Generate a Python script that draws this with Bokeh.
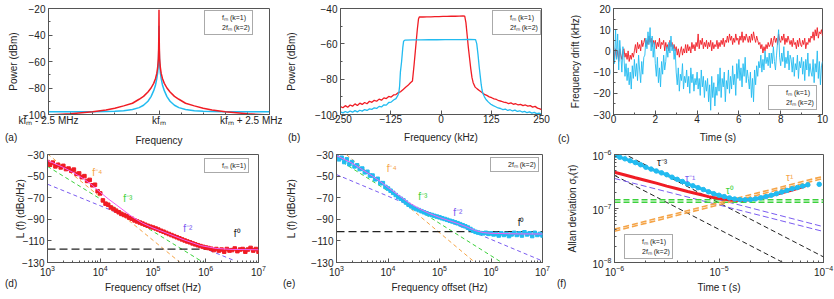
import numpy as np
from bokeh.plotting import figure
from bokeh.layouts import row, column
from bokeh.models import Range1d, FixedTicker, Legend, LegendItem, Label, Div
from bokeh.embed import file_html
from bokeh.resources import INLINE

FONT = "Liberation Sans"
RED = "#f01c24"
BLUE = "#22bbf0"
ORANGE = "#f5a447"
GREEN = "#3bd13b"
PURPLE = "#7a5cf0"
MAGENTA = "#f35ef3"
DARK = "#222222"
FRAME = "#555555"

# ---------------- (a) spectrum around k*fm ----------------
a_offset_mhz = [0, 0.004, 0.008, 0.015, 0.03, 0.05, 0.08, 0.12, 0.18, 0.25, 0.35, 0.45,
                0.6, 0.8, 1.0, 1.2, 1.5, 2.0, 2.5]
a_red_dbm = [-21, -40, -50, -58, -64.5, -69, -73, -76.5, -80, -83, -86.3, -88.5,
             -91.5, -93.5, -95.3, -96.6, -98, -99.5, -100.3]
a_blue_dbm = [-33, -48, -55, -62, -68.5, -73, -78, -82, -86.5, -90, -93, -94.8,
              -96.2, -97.2, -97.6, -97.8, -97.9, -98, -98]
a_tick_pos = [-2.5, 0, 2.5]
a_tick_labels = ["kfₘ - 2.5 MHz", "kfₘ", "kfₘ + 2.5 MHz"]

# ---------------- (b) ----------------
b_red_khz = [-250, -244, -238, -232, -226, -220, -214, -208, -202, -196, -190, -184, -178, -172,
             -166, -160, -154, -148, -142, -136, -130, -124, -118, -112, -106, -100, -94, -88, -82,
             -76, -71, -67, -63, -59, -56, -54, -45, -35, -25, -15, -5, 5, 15, 25, 35, 45, 55,
             59, 62, 65, 68, 71, 74, 77, 80, 85, 90, 96, 102, 108, 114, 120, 126, 132, 138, 144,
             150, 156, 162, 168, 174, 180, 186, 192, 198, 204, 210, 216, 222, 228, 234, 240, 246, 250]
b_red_dbm = [-95.5, -96.2, -95, -95.9, -94.6, -95.3, -94, -94.9, -93.6, -94.3, -93.2, -93.9, -92.5,
             -93.1, -92, -92.5, -91.3, -91.9, -90.6, -91, -89.8, -90.1, -88.9, -88.7, -87.6, -87,
             -85.8, -84.6, -83.5, -82, -81, -72, -62, -52, -46, -44.8, -44.8, -44.7, -44.7, -44.6,
             -44.6, -44.5, -44.5, -44.4, -44.4, -44.3, -44.2, -44.3, -48, -55, -62, -68, -74, -79,
             -82, -84.5, -85.5, -86.5, -87.5, -88.6, -89.2, -90, -90.5, -91.2, -91.5, -92.2, -92.5,
             -93, -93.2, -93.8, -93.4, -94.2, -93.9, -94.6, -94.3, -95, -94.6, -95.3, -95, -95.8,
             -95.4, -96.4, -96.8, -97.2]
b_blue_khz = [-250, -244, -238, -232, -226, -220, -214, -208, -202, -196, -190, -184, -178, -172,
              -166, -160, -154, -148, -142, -136, -130, -124, -118, -112, -108, -105, -103, -101,
              -98, -95, -93, -90, -70, -50, -30, -10, 10, 30, 50, 70, 86, 89, 92, 95, 98, 100, 102,
              104, 108, 112, 118, 124, 130, 136, 142, 148, 154, 160, 166, 172, 178, 184, 190, 196,
              202, 208, 214, 220, 226, 232, 238, 244, 250]
b_blue_dbm = [-98.5, -99.1, -98.3, -98.9, -98, -98.7, -97.8, -98.5, -97.6, -98.1, -97.2, -97.7,
              -96.8, -97.1, -96.2, -96.6, -95.4, -95.7, -94.5, -94.7, -93.2, -93, -91.8, -91,
              -89.5, -88, -84, -76, -70, -62, -58.5, -57.9, -57.8, -57.8, -57.7, -57.7, -57.6,
              -57.6, -57.6, -57.5, -57.6, -60, -66, -73, -79, -83, -86, -88, -90, -91.5, -93,
              -94.2, -95, -95.6, -96.3, -96.6, -97.2, -96.9, -97.7, -97.3, -98, -97.5, -98.3,
              -97.9, -98.6, -98.2, -99, -98.5, -99.2, -98.8, -99.5, -99.2, -99.8]

# ---------------- (c) frequency drift, 0.05 s sampling ----------------
c_red_khz = [2, -4, 1, -3, 0, -5, 1, -2, -4, 0,
             1, -3, -1, -4, 0, -5, -2, -4, -1, -3,
             0, 3, -1, 4, 1, 3, 0, 5, 2, 4,
             6, 2, 5, 3, 7, 4, 6, 2, 5, 3,
             5, 1, 4, 2, 6, 1, 4, 3, 5, 0,
             4, 1, 3, 0, 5, 2, 4, 1, 3, 0,
             2, -2, 1, -3, 0, 2, -2, 1, -1, 3,
             -1, 3, 0, 2, -1, 4, 1, 3, 0, 4,
             2, 8, 1, 5, 3, 6, 1, 4, 2, 5,
             1, 4, 2, 5, 0, 4, 1, 3, 2, 5,
             1, 4, 2, 5, 3, 6, 2, 5, 4, 7,
             4, 8, 5, 7, 3, 6, 4, 8, 5, 6,
             3, 7, 5, 9, 4, 7, 5, 8, 6, 4,
             7, 4, 8, 5, 9, 6, 4, 7, 5, 3,
             4, 1, 3, -1, 2, 0, 3, 1, 4, 2,
             3, 6, 2, 5, 7, 4, 6, 3, 8, 5,
             4, 7, 5, 8, 3, 6, 4, 7, 5, 3,
             5, 2, 6, 3, 4, 1, 5, 2, 6, 3,
             2, 5, 3, 6, 1, 4, 3, 6, 4, 7,
             6, 9, 5, 10, 7, 11, 6, 9, 8, 10,
             7]
c_blue_khz = [3, -6, 10, -4, 8, -9, 5, -2, -10, 2,
              -3, -12, -6, -14, -8, -16, -10, -18, -7, -13,
              -4, -12, -6, -14, -2, -9, -15, -5, -11, -3,
              -2, 6, 1, 9, 3, 11, 0, 7, -3, 4,
              -6, -12, -3, -15, -8, -17, -5, -11, -2, -9,
              -5, 2, -3, 4, -1, 7, 0, 3, -4, 1,
              -10, -16, -8, -19, -11, -14, -6, -18, -12, -15,
              -9, -17, -12, -20, -8, -15, -11, -19, -13, -16,
              -10, -18, -13, -21, -9, -17, -12, -22, -14, -19,
              -13, -24, -16, -28, -12, -22, -15, -26, -17, -21,
              -11, -19, -8, -22, -13, -17, -10, -24, -14, -18,
              -9, -20, -12, -18, -7, -16, -11, -21, -6, -13,
              -4, -14, -8, -17, -6, -12, -3, -15, -9, -13,
              -18, -10, -22, -13, -24, -9, -16, -7, -12, -5,
              -8, -2, -10, -4, -9, 0, -6, -3, -7, -1,
              -8, -1, -6, 2, -5, -9, -2, 4, 10, -3,
              -7, -1, -5, 2, -8, -3, -6, 0, -9, -2,
              -4, -10, -3, -12, -6, -9, -2, -13, -5, -8,
              -3, -11, -5, -14, -4, -9, -1, -12, -6, -10,
              -12, -4, -15, -6, -10, 0, -13, -5, -16, -7,
              -5]

# ---------------- (d) phase noise, fm (k=1), 20 points/decade ----------------
d_red_L = [-37, -39.5, -37.5, -41, -39.5, -42, -40.5, -43.5, -43, -45,
           -44, -48, -47.5, -51, -50, -54.5, -53.5, -58.5, -58, -64,
           -66, -72.5, -75.5, -76.5, -79, -80.5, -82, -83.5, -85, -86,
           -87, -88.5, -89.5, -91, -92, -93, -94, -95, -96, -96.8,
           -97.6, -98.5, -99.5, -100.6, -101.5, -102.6, -103.6, -104.6, -105.6, -106.6,
           -107.6, -108.6, -109.6, -110.5, -111.3, -112.3, -113.2, -114, -114.8, -115.5,
           -116.1, -116.6, -117.2, -118.5, -117.5, -119, -118, -120, -117.5, -119,
           -118.5, -117, -119.5, -118, -117.5, -120, -118, -116.5, -119, -117.5,
           -120]
d_fit_f = [1e3, 2e3, 3.16e3, 5e3, 7.08e3, 1e4, 1.41e4, 2e4, 2.82e4, 3.98e4, 6.31e4, 1e5,
           2e5, 4e5, 7.94e5, 1.58e6, 3.16e6, 1e7]
d_fit_L = [-35.5, -42, -47, -53, -58.5, -65, -71, -76.5, -82, -87.5, -93.5, -98,
           -103.6, -109.3, -114.3, -117, -117.9, -118.2]
d_f4_f, d_f4_L = [1e3, 3.27e5], [-29.4, -130]
d_f3_f, d_f3_L = [1e3, 9.06e5], [-41, -130]
d_f2_f, d_f2_L = [1e3, 3.6e6], [-57.5, -128.5]
d_f0_f, d_f0_L = [1e3, 1e7], [-117.6, -117.6]

# ---------------- (e) phase noise, 2fm (k=2) ----------------
e_blue_L = [-32, -34.5, -33, -37, -34.5, -39, -37, -41, -40, -43.5,
            -43, -46.5, -46, -49.5, -49.5, -53, -52.5, -56.5, -56.5, -60,
            -61.5, -63.5, -65.5, -67.5, -69.5, -71, -72.5, -74.5, -76.5, -78,
            -79.5, -80.5, -81.5, -82.5, -83.5, -84.5, -85.3, -86, -86.8, -87.5,
            -88.2, -89, -89.7, -90.5, -91.3, -92, -92.8, -93.6, -94.5, -95.5,
            -96.5, -97.6, -99, -100.5, -101.6, -102.3, -102.8, -103, -102.5, -103.5,
            -103, -104, -103.5, -105, -103, -104.5, -103.5, -105.5, -104, -102.5,
            -104.5, -103, -105, -102, -104, -103, -105.5, -102.5, -104.5, -103.5,
            -105]
e_fit_f = [1e3, 2e3, 3.16e3, 5e3, 7.08e3, 1e4, 1.58e4, 2.51e4, 3.98e4, 6.31e4, 1e5, 2e5,
           3.16e5, 5e5, 7.08e5, 1e6, 3.16e6, 1e7]
e_fit_L = [-31, -38, -44, -50, -55, -60.5, -67.5, -74.5, -80, -84.5, -88.3, -93,
           -96.5, -100.5, -102.3, -103, -103.5, -103.6]
e_f4_f, e_f4_L = [1.55e3, 4.9e5], [-30, -130]
e_f3_f, e_f3_L = [1e3, 1.62e6], [-33.7, -130]
e_f2_f, e_f2_L = [1e3, 1e7], [-48.6, -128.6]
e_f0_f, e_f0_L = [1e3, 1e7], [-101.4, -101.4]

# ---------------- (f) Allan deviation ----------------
f_red_tau = [1e-6, 1.26e-6, 1.58e-6, 2e-6, 2.51e-6, 3.16e-6, 3.98e-6, 5.01e-6, 6.31e-6, 7.94e-6,
             1e-5, 1.26e-5, 1.58e-5, 2e-5, 2.51e-5, 3.16e-5, 3.98e-5, 5.01e-5, 6.31e-5, 7.4e-5]
f_red_sigma = [4.68e-7, 4.17e-7, 3.72e-7, 3.31e-7, 2.95e-7, 2.60e-7, 2.32e-7, 2.07e-7, 1.86e-7,
               1.66e-7, 1.53e-7, 1.45e-7, 1.41e-7, 1.45e-7, 1.58e-7, 1.74e-7, 1.95e-7, 2.19e-7,
               2.51e-7, 2.82e-7]
f_blue_sigma = [9.59e-7, 8.91e-7, 8.32e-7, 7.67e-7, 7.08e-7, 6.46e-7, 5.82e-7, 5.37e-7, 4.95e-7,
                4.57e-7, 4.22e-7, 3.80e-7, 3.47e-7, 3.16e-7, 2.85e-7, 2.63e-7, 2.43e-7, 2.24e-7,
                2.04e-7, 1.88e-7, 1.76e-7, 1.66e-7, 1.57e-7, 1.50e-7, 1.46e-7, 1.45e-7, 1.46e-7,
                1.51e-7, 1.58e-7, 1.66e-7, 1.76e-7, 1.88e-7, 2.02e-7, 2.16e-7, 2.32e-7, 2.45e-7,
                2.60e-7, 2.75e-7]
f_blue_tail_tau, f_blue_tail_sigma = [9.1e-5], [2.8e-7]
f_k1_tau, f_k1_s = [1e-6, 1e-4], [1.27e-6, 1.27e-8]
f_k2_tau, f_k2_s = [1e-6, 1e-4], [4.1e-7, 4.1e-9]
f_p1_tau, f_p1_s = [1e-6, 1e-4], [4.6e-7, 4.6e-8]
f_p2_tau, f_p2_s = [1e-6, 1e-4], [3.6e-7, 3.75e-8]
f_g1_tau, f_g1_s = [1e-6, 1e-4], [1.45e-7, 1.45e-7]
f_g2_tau, f_g2_s = [1e-6, 1e-4], [1.31e-7, 1.31e-7]
f_o1_tau, f_o1_s = [1e-6, 1e-4], [3.8e-8, 3.6e-7]
f_o2_tau, f_o2_s = [1e-6, 1e-4], [4.15e-8, 3.95e-7]

# panel letters: text, left edge (px), vertical centre (px)
panel_tags = ["(a)", "(b)", "(c)", "(d)", "(e)", "(f)"]
tag_left = [5, 288, 558, 5, 283, 557]
tag_center_y = [136, 136, 137, 282, 282, 282]


def make_fig(w, h, bl, br, bt, bb, xr, yr, xtype="linear", ytype="linear",
             xlabel="", ylabel="", xstand=5, ystand=3, xlab_stand=3):
    p = figure(width=w, height=h, x_range=Range1d(*xr), y_range=Range1d(*yr),
               x_axis_type=xtype, y_axis_type=ytype, output_backend="svg",
               toolbar_location=None, min_border_left=bl, min_border_right=br,
               min_border_top=bt, min_border_bottom=bb)
    p.grid.visible = False
    p.outline_line_color = FRAME
    p.outline_line_width = 1
    for ax in (p.xaxis[0], p.yaxis[0]):
        ax.axis_line_color = FRAME
        ax.major_tick_line_color = FRAME
        ax.minor_tick_line_color = FRAME
        ax.major_tick_in = 4
        ax.major_tick_out = 0
        ax.minor_tick_in = 2
        ax.minor_tick_out = 0
        ax.major_label_text_font = FONT
        ax.major_label_text_font_size = "10px"
        ax.major_label_text_color = DARK
        ax.axis_label_text_font = FONT
        ax.axis_label_text_font_size = "10px"
        ax.axis_label_text_font_style = "normal"
        ax.axis_label_text_color = DARK
        ax.major_label_standoff = 3
    p.xaxis.major_label_standoff = xlab_stand
    p.xaxis.axis_label = xlabel
    p.yaxis.axis_label = ylabel
    p.xaxis.axis_label_standoff = xstand
    p.yaxis.axis_label_standoff = ystand
    return p


def add_legend(p, entries, loc):
    items = []
    for label, color, lw in entries:
        r = p.line([], [], line_color=color, line_width=lw)
        items.append(LegendItem(label=label, renderers=[r]))
    lg = Legend(items=items, location=loc, margin=0, padding=2, spacing=1,
                glyph_width=12, glyph_height=8, label_height=8, label_standoff=3,
                label_text_font=FONT, label_text_font_size="7px", label_text_color=DARK,
                border_line_color=FRAME, border_line_width=1, background_fill_color="white",
                background_fill_alpha=1)
    p.add_layout(lg)


def note(p, x, y, text, color):
    p.add_layout(Label(x=x, y=y, text=text, text_font=FONT, text_font_size="10px",
                       text_color=color, text_align="center", text_baseline="middle"))


# ---------- (a)
pa = make_fig(282, 148, 48, 13, 8, 34, (-2.5, 2.5), (-100, -20),
              xlabel="Frequency", ylabel="Power (dBm)", xstand=6, ystand=1, xlab_stand=0)
pa.xaxis.ticker = FixedTicker(ticks=a_tick_pos, minor_ticks=[-2, -1.5, -1, -0.5, 0.5, 1, 1.5, 2])
pa.xaxis.major_label_overrides = dict(zip(a_tick_pos, a_tick_labels))
pa.yaxis.ticker = FixedTicker(ticks=[-100, -80, -60, -40, -20], minor_ticks=[-90, -70, -50, -30])
a_x = [-o for o in a_offset_mhz[::-1]] + a_offset_mhz[1:]
pa.line(a_x, a_blue_dbm[::-1] + a_blue_dbm[1:], line_color=BLUE, line_width=1.5)
pa.line(a_x, a_red_dbm[::-1] + a_red_dbm[1:], line_color=RED, line_width=1.5)
add_legend(pa, [("fₘ (k=1)", RED, 2), ("2fₘ (k=2)", BLUE, 2)], (156, 79))

# ---------- (b)
pb = make_fig(278, 148, 51, 19, 8, 34, (-250, 250), (-100, -40),
              xlabel="Frequency (kHz)", ylabel="Power (dBm)", xstand=6, ystand=15, xlab_stand=0)
pb.xaxis.ticker = FixedTicker(ticks=[-250, -125, 0, 125, 250])
pb.yaxis.ticker = FixedTicker(ticks=[-100, -80, -60, -40], minor_ticks=[-90, -70, -50])
pb.line(b_red_khz, b_red_dbm, line_color=RED, line_width=1.3)
pb.line(b_blue_khz, b_blue_dbm, line_color=BLUE, line_width=1.3)
add_legend(pb, [("fₘ (k=1)", RED, 2), ("2fₘ (k=2)", BLUE, 2)], (152, 79))

# ---------- (c)
pc = make_fig(274, 148, 53, 12, 8, 34, (0, 10), (-30, 20),
              xlabel="Time (s)", ylabel="Frequency drift (kHz)", xstand=6, ystand=10, xlab_stand=0)
pc.xaxis.ticker = FixedTicker(ticks=[0, 2, 4, 6, 8, 10], minor_ticks=[1, 3, 5, 7, 9])
pc.yaxis.ticker = FixedTicker(ticks=[-30, -20, -10, 0, 10, 20],
                              minor_ticks=[-25, -15, -5, 5, 15])
c_t = np.linspace(0, 10, len(c_red_khz))
c_tb = np.linspace(0, 10, len(c_blue_khz))
pc.line(c_t, c_red_khz, line_color=RED, line_width=0.9)
pc.line(c_tb, c_blue_khz, line_color=BLUE, line_width=0.9)
add_legend(pc, [("fₘ (k=1)", RED, 2.5), ("2fₘ (k=2)", BLUE, 2.5)], (155, 4))

# ---------- (d)
pd_ = make_fig(282, 150, 47, 24, 6, 36, (1e3, 1e7), (-130, -30), xtype="log",
               xlabel="Frequency offset (Hz)", ylabel="L (f) (dBc/Hz)", xstand=3, ystand=-7,
               xlab_stand=2)
pd_.yaxis.ticker = FixedTicker(ticks=[-130, -110, -90, -70, -50, -30], minor_ticks=[])
pd_.line(d_f4_f, d_f4_L, line_color=ORANGE, line_width=1, line_dash="4 3")
pd_.line(d_f3_f, d_f3_L, line_color=GREEN, line_width=1, line_dash="4 3")
pd_.line(d_f2_f, d_f2_L, line_color=PURPLE, line_width=1, line_dash="4 3")
pd_.line(d_f0_f, d_f0_L, line_color=DARK, line_width=1.1, line_dash="8 4")
d_freq = np.logspace(3, 7, len(d_red_L))
pd_.scatter(d_freq, d_red_L, marker="square", size=3.5, fill_color=RED, line_color=RED)
pd_.line(d_fit_f, d_fit_L, line_color=MAGENTA, line_width=1)
add_legend(pd_, [("fₘ (k=1)", RED, 2)], (157, 89))
note(pd_, 8.75e3, -46.4, "f⁻⁴", ORANGE)
note(pd_, 3.34e4, -71, "f⁻³", GREEN)
note(pd_, 4.57e5, -98.8, "f⁻²", PURPLE)
note(pd_, 3.95e6, -103.4, "f⁰", DARK)

# ---------- (e)
pe = make_fig(278, 150, 51, 18, 6, 36, (1e3, 1e7), (-130, -30), xtype="log",
              xlabel="Frequency offset (Hz)", ylabel="L (f) (dBc/Hz)", xstand=3, ystand=11,
              xlab_stand=2)
pe.yaxis.ticker = FixedTicker(ticks=[-130, -110, -90, -70, -50, -30], minor_ticks=[])
pe.line(e_f4_f, e_f4_L, line_color=ORANGE, line_width=1, line_dash="4 3")
pe.line(e_f3_f, e_f3_L, line_color=GREEN, line_width=1, line_dash="4 3")
pe.line(e_f2_f, e_f2_L, line_color=PURPLE, line_width=1, line_dash="4 3")
pe.line(e_f0_f, e_f0_L, line_color=DARK, line_width=1.1, line_dash="8 4")
e_freq = np.logspace(3, 7, len(e_blue_L))
pe.scatter(e_freq, e_blue_L, marker="square", size=3.5, fill_color=BLUE, line_color=BLUE)
pe.line(e_fit_f, e_fit_L, line_color=MAGENTA, line_width=1)
add_legend(pe, [("2fₘ (k=2)", BLUE, 2)], (154, 90))
note(pe, 1.18e4, -43.3, "f⁻⁴", ORANGE)
note(pe, 4.76e4, -68.6, "f⁻³", GREEN)
note(pe, 2.26e5, -83.4, "f⁻²", PURPLE)
note(pe, 3.83e6, -92.7, "f⁰", DARK)

# ---------- (f)
pf = make_fig(274, 150, 54, 11, 6, 36, (1e-6, 1e-4), (1e-8, 1e-6), xtype="log", ytype="log",
              xlabel="Time τ (s)", ylabel="Allan deviation σᵧ(τ)", xstand=3, ystand=11,
              xlab_stand=2)
pf.line(f_k1_tau, f_k1_s, line_color=DARK, line_width=1, line_dash="5 3")
pf.line(f_k2_tau, f_k2_s, line_color=DARK, line_width=1, line_dash="5 3")
pf.line(f_p1_tau, f_p1_s, line_color=PURPLE, line_width=1, line_dash="6 3")
pf.line(f_p2_tau, f_p2_s, line_color=PURPLE, line_width=1, line_dash="6 3")
pf.line(f_g1_tau, f_g1_s, line_color=GREEN, line_width=1.5, line_dash="6 3")
pf.line(f_g2_tau, f_g2_s, line_color=GREEN, line_width=1.5, line_dash="6 3")
pf.line(f_o1_tau, f_o1_s, line_color=ORANGE, line_width=1.6, line_dash="6 3")
pf.line(f_o2_tau, f_o2_s, line_color=ORANGE, line_width=1.6, line_dash="6 3")
pf.line(f_red_tau, f_red_sigma, line_color=RED, line_width=3)
f_blue_tau = np.logspace(-6, -4.15, len(f_blue_sigma))
pf.line(f_blue_tau, f_blue_sigma, line_color=BLUE, line_width=3)
pf.scatter(f_blue_tau, f_blue_sigma, marker="circle", size=4.5, fill_color=BLUE, line_color=BLUE)
pf.scatter(f_blue_tail_tau, f_blue_tail_sigma, marker="circle", size=4.5, fill_color=BLUE,
           line_color=BLUE)
add_legend(pf, [("fₘ (k=1)", RED, 3), ("2fₘ (k=2)", BLUE, 3)], (10, 3))
note(pf, 2.85e-6, 7.0e-7, "τ⁻³", DARK)
note(pf, 5.3e-6, 3.6e-7, "τ⁻¹", PURPLE)
note(pf, 1.27e-5, 2.15e-7, "τ⁰", GREEN)
note(pf, 4.75e-5, 3.8e-7, "τ¹", ORANGE)

# panel letters as an HTML overlay placed after the grid
GRID_H = 298
INNER = 10
spans = "".join(
    '<span style="position:absolute;left:%dpx;top:%dpx;line-height:12px;white-space:nowrap">%s</span>'
    % (l, cy - 6 - GRID_H - INNER, t) for t, l, cy in zip(panel_tags, tag_left, tag_center_y))
tags_div = Div(text='<div style="position:relative;width:834px;height:0px;'
                    "font-family:'Liberation Sans';font-size:10px;color:#222\">" + spans + "</div>",
               width=834, height=1, margin=(0, 0, -1, 0))

layout = column(row(pa, pb, pc, spacing=0), row(pd_, pe, pf, spacing=0), tags_div, spacing=0)
open("out.html", "w").write(file_html(layout, INLINE))
